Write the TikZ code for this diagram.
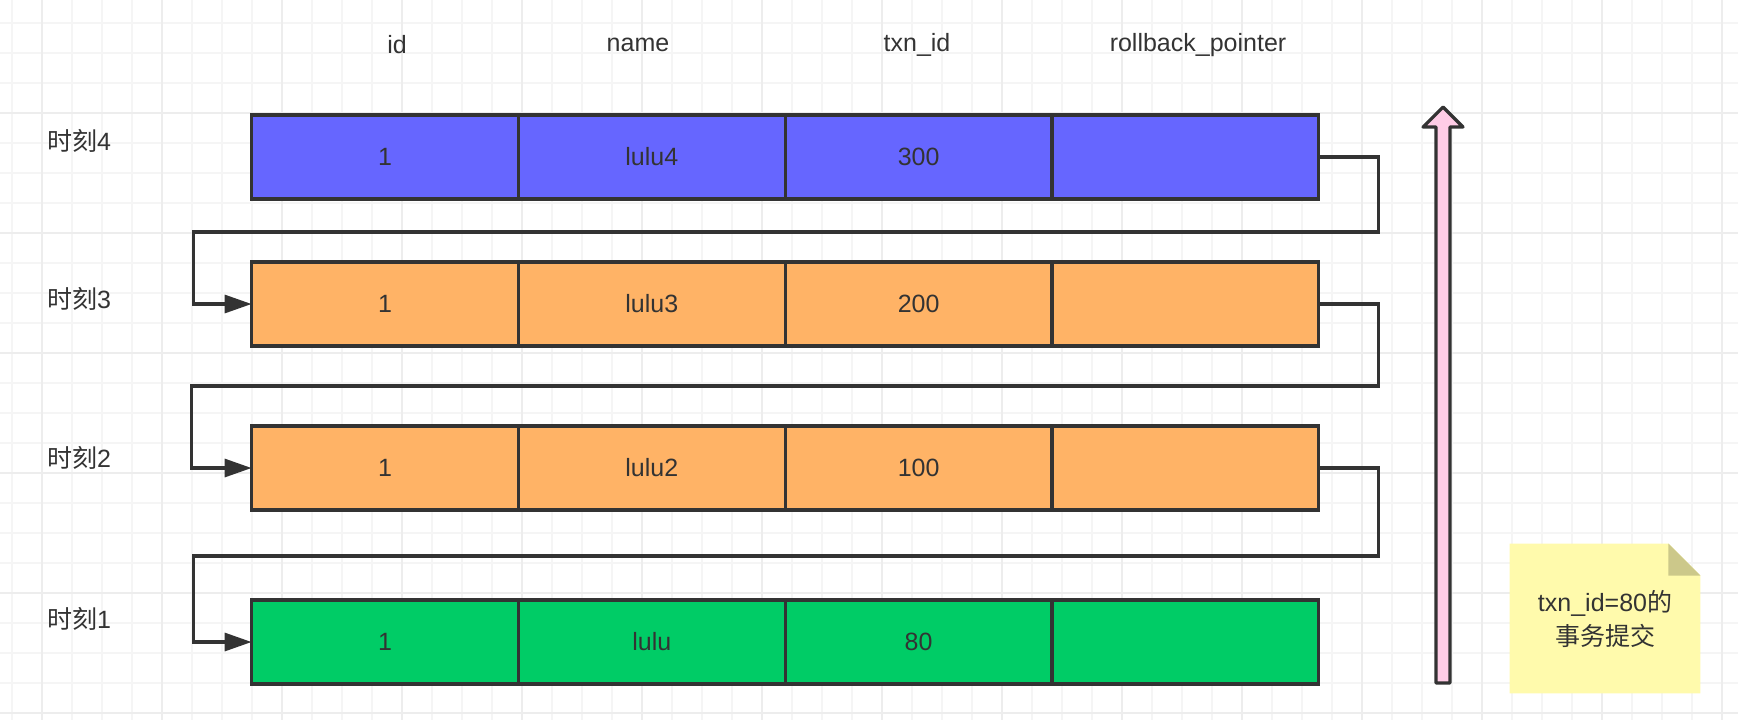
\documentclass[tikz,border=0pt]{standalone}
\usepackage{fontspec}
\setmainfont{Liberation Sans}
\newfontfamily\cjk{Noto Sans CJK SC}
\usetikzlibrary{positioning, arrows.meta}
\definecolor{linec}{HTML}{333333}
\definecolor{rowblue}{HTML}{6666FF}
\definecolor{roworange}{HTML}{FFB366}
\definecolor{rowgreen}{HTML}{00CC66}
\definecolor{uppink}{HTML}{FFCCE6}
\definecolor{notefill}{HTML}{FFFAAC}
\definecolor{notefold}{HTML}{CCC88A}
\definecolor{gridminor}{HTML}{F5F5F5}
\definecolor{gridmajor}{HTML}{EDEDED}
\tikzset{
  cell/.style={draw=linec, line width=1.6pt, minimum width=133.4pt, minimum height=42pt,
    inner sep=0pt, outer sep=0pt, text=linec},
  blue cell/.style={cell, fill=rowblue},
  orange cell/.style={cell, fill=roworange},
  green cell/.style={cell, fill=rowgreen},
  head/.style={text=linec, inner sep=0pt},
  moment/.style={text=linec, inner sep=0pt},
  link/.style={draw=linec, line width=1.6pt, -{Triangle[length=13.5pt,width=9pt]}},
}

\begin{document}
\begin{tikzpicture}[x=0.5pt, y=-0.5pt, node distance=133.4pt, on grid,
    font=\fontsize{12.5}{15}\selectfont]
  \useasboundingbox (0,0) rectangle (1738,720);
  % grid
  \foreach \gx in {12,42,...,1738} \draw[gridminor, line width=1pt] (\gx,0) -- (\gx,720);
  \foreach \gy in {23,53,...,720} \draw[gridminor, line width=1pt] (0,\gy) -- (1738,\gy);
  \foreach \gx in {42,162,...,1738} \draw[gridmajor, line width=1pt] (\gx,0) -- (\gx,720);
  \foreach \gy in {113,233,...,720} \draw[gridmajor, line width=1pt] (0,\gy) -- (1738,\gy);

  % column heads
  \node[head] (hid)   at (397,45)  {id};
  \node[head] (hname) at (638,45)  {name};
  \node[head] (htxn)  at (917,45)  {txn\_id};
  \node[head] (hroll) at (1198,45) {rollback\_pointer};

  % moments
  \node[moment] (m4) at (79,141) {{\cjk 时刻}4};
  \node[moment] (m3) at (79,299) {{\cjk 时刻}3};
  \node[moment] (m2) at (79,458) {{\cjk 时刻}2};
  \node[moment] (m1) at (79,619) {{\cjk 时刻}1};

  % rows
  \node[blue cell]   (r4c1) at (385,157) {1};
  \node[blue cell]   (r4c2) [right=of r4c1] {lulu4};
  \node[blue cell]   (r4c3) [right=of r4c2] {300};
  \node[blue cell]   (r4c4) [right=of r4c3] {};

  \node[orange cell] (r3c1) at (385,304) {1};
  \node[orange cell] (r3c2) [right=of r3c1] {lulu3};
  \node[orange cell] (r3c3) [right=of r3c2] {200};
  \node[orange cell] (r3c4) [right=of r3c3] {};

  \node[orange cell] (r2c1) at (385,468) {1};
  \node[orange cell] (r2c2) [right=of r2c1] {lulu2};
  \node[orange cell] (r2c3) [right=of r2c2] {100};
  \node[orange cell] (r2c4) [right=of r2c3] {};

  \node[green cell]  (r1c1) at (385,642) {1};
  \node[green cell]  (r1c2) [right=of r1c1] {lulu};
  \node[green cell]  (r1c3) [right=of r1c2] {80};
  \node[green cell]  (r1c4) [right=of r1c3] {};

  % rollback links
  \draw[link] (r4c4.east) -- ++(60,0) -- ++(0,75) -| ([xshift=-29pt]r3c1.west) -- (r3c1.west);
  \draw[link] (r3c4.east) -- ++(60,0) -- ++(0,82) -| ([xshift=-30pt]r2c1.west) -- (r2c1.west);
  \draw[link] (r2c4.east) -- ++(60,0) -- ++(0,88) -| ([xshift=-29pt]r1c1.west) -- (r1c1.west);

  % time arrow
  \draw[linec, fill=uppink, line width=1.6pt, line join=round]
    (1443,107) -- (1463,127) -- (1450,127) -- (1450,683) -- (1436,683)
    -- (1436,127) -- (1423,127) -- cycle;

  % note
  \node[minimum width=95pt, minimum height=74.5pt, inner sep=0pt, text=linec, align=center]
    (note) at (1605,618.5) {};
  \fill[notefill] (note.north west) -- ([xshift=-16pt]note.north east)
    -- ([yshift=-16pt]note.north east) -- (note.south east) -- (note.south west) -- cycle;
  \fill[notefold] ([xshift=-16pt]note.north east) -- ([xshift=-16pt,yshift=-16pt]note.north east)
    -- ([yshift=-16pt]note.north east) -- cycle;
  \node[text=linec, align=center, inner sep=0pt] (notetext) at (note.center)
    {txn\_id=80{\cjk 的}\\[2pt]{\cjk 事务提交}};
\end{tikzpicture}
\end{document}
